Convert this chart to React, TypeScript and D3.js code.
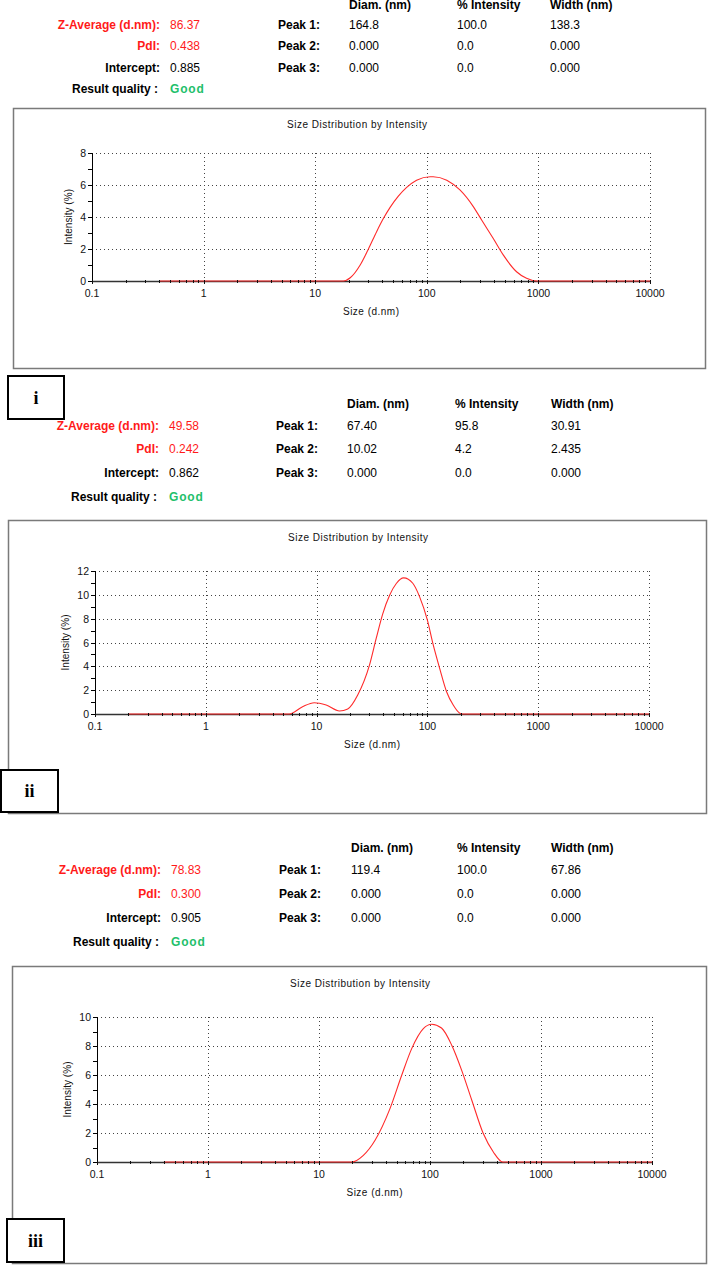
import React from "react";
import * as d3 from "d3";

// ---------- DATA ----------
const headerCols = ["Diam. (nm)", "% Intensity", "Width (nm)"];
const peakLabels = ["Peak 1:", "Peak 2:", "Peak 3:"];

const zAvg = ["86.37", "49.58", "78.83"];
const pdi = ["0.438", "0.242", "0.300"];
const intercept = ["0.885", "0.862", "0.905"];
const quality = ["Good", "Good", "Good"];

const peaksI = [["164.8", "100.0", "138.3"], ["0.000", "0.0", "0.000"], ["0.000", "0.0", "0.000"]];
const peaksII = [["67.40", "95.8", "30.91"], ["10.02", "4.2", "2.435"], ["0.000", "0.0", "0.000"]];
const peaksIII = [["119.4", "100.0", "67.86"], ["0.000", "0.0", "0.000"], ["0.000", "0.0", "0.000"]];

const xTickValues = [0.1, 1, 10, 100, 1000, 10000];
const xTickLabels = ["0.1", "1", "10", "100", "1000", "10000"];

const sizesI = [0.4, 10, 17.9, 20.6, 25.3, 30, 35.6, 40.8, 46.9, 55.6, 66, 81, 107, 114, 151, 198, 261, 310, 393, 484, 637, 783, 962, 10000];
const intensityI = [0, 0, 0, 0.2, 1.0, 2.0, 3.1, 3.9, 4.6, 5.3, 5.85, 6.3, 6.52, 6.52, 6.3, 5.69, 4.65, 3.81, 2.67, 1.63, 0.58, 0.17, 0, 0];

const sizesII = [0.2, 3, 5.66, 7.47, 9.53, 12.2, 16.1, 19.1, 23.5, 30, 34.5, 39.6, 45.6, 52.4, 61, 74.1, 85.1, 100, 112, 129, 149, 171, 196, 204, 10000];
const intensityII = [0, 0, 0, 0.61, 0.95, 0.75, 0.25, 0.42, 1.59, 4.1, 6.34, 8.43, 9.97, 10.95, 11.42, 10.95, 9.83, 7.87, 5.92, 3.83, 1.87, 0.75, 0.06, 0, 0];

const sizesIII = [0.4, 10, 19.7, 25.1, 32, 43.6, 55.6, 68.4, 87.1, 103.5, 127, 157, 193, 238, 302, 372, 452, 10000];
const intensityIII = [0, 0, 0, 0.46, 1.5, 3.68, 5.98, 7.82, 9.2, 9.5, 9.24, 8.05, 6.32, 4.26, 1.96, 0.69, 0, 0];

const yMaxes = [8, 12, 10];
const panelLabels = ["i", "ii", "iii"];

// ---------- LAYOUT ----------
const FONT = "'Liberation Sans', Arial, sans-serif";
const RED = "#ff2a2a";

type PanelLayout = {
  frame: [number, number, number, number];
  x0: number; x1: number; yTop: number; yBot: number;
  titleX: number; titleY: number; ylabX: number;
  box: [number, number, number, number];
};

const layouts: PanelLayout[] = [
  { frame: [13, 108, 692, 260], x0: 92, x1: 650, yTop: 153, yBot: 281, titleX: 357, titleY: 128, ylabX: 72, box: [7, 375, 58, 45] },
  { frame: [8, 520, 698, 293], x0: 95, x1: 649, yTop: 571, yBot: 714, titleX: 358, titleY: 541, ylabX: 69, box: [0, 769, 59, 44] },
  { frame: [12, 966, 694, 297], x0: 97, x1: 652, yTop: 1017, yBot: 1162, titleX: 360, titleY: 987, ylabX: 71, box: [6, 1218, 59, 45] },
];

type HeaderLayout = { rows: number[]; labelRight: number; valueX: number; peakX: number; cols: number[] };
const headerLayouts: HeaderLayout[] = [
  { rows: [9, 29, 50, 72, 93], labelRight: 160, valueX: 170, peakX: 278, cols: [349, 457, 550] },
  { rows: [408, 430, 453, 477, 501], labelRight: 159, valueX: 169, peakX: 276, cols: [347, 455, 551] },
  { rows: [852, 874, 898, 922, 946], labelRight: 161, valueX: 171, peakX: 279, cols: [351, 457, 551] },
];

function Header({ i, peaks }: { i: number; peaks: string[][] }) {
  const L = headerLayouts[i];
  const r = L.rows;
  return (
    <g fontFamily={FONT} fontSize={12}>
      {headerCols.map((c, k) => (
        <text key={c} x={L.cols[k]} y={r[0]} fontWeight="bold" fill="#000">{c}</text>
      ))}
      <text x={L.labelRight} y={r[1]} textAnchor="end" fontWeight="bold" fill="#ff1a1a">Z-Average (d.nm):</text>
      <text x={L.valueX} y={r[1]} fill="#ff1a1a">{zAvg[i]}</text>
      <text x={L.labelRight} y={r[2]} textAnchor="end" fontWeight="bold" fill="#ff1a1a">PdI:</text>
      <text x={L.valueX} y={r[2]} fill="#ff1a1a">{pdi[i]}</text>
      <text x={L.labelRight} y={r[3]} textAnchor="end" fontWeight="bold" fill="#000">Intercept:</text>
      <text x={L.valueX} y={r[3]} fill="#000">{intercept[i]}</text>
      <text x={L.labelRight - 2} y={r[4]} textAnchor="end" fontWeight="bold" fill="#000">Result quality :</text>
      <text x={L.valueX} y={r[4]} fontWeight="bold" fill="#22c06a" letterSpacing={0.8}>{quality[i]}</text>
      {peakLabels.map((p, k) => (
        <g key={p}>
          <text x={L.peakX} y={r[k + 1]} fontWeight="bold" fill="#000">{p}</text>
          {peaks[k].map((v, j) => (
            <text key={j} x={L.cols[j]} y={r[k + 1]} fill="#000">{v}</text>
          ))}
        </g>
      ))}
    </g>
  );
}

function Panel({ i, sizes, values }: { i: number; sizes: number[]; values: number[] }) {
  const L = layouts[i];
  const yMax = yMaxes[i];
  const xs = d3.scaleLog().domain([0.1, 10000]).range([L.x0, L.x1]);
  const ys = d3.scaleLinear().domain([0, yMax]).range([L.yBot, L.yTop]);
  const majorY = d3.range(0, yMax + 1, 2);
  const minorY = d3.range(0, yMax + 1, 1);
  const minorX: number[] = [];
  for (let e = -1; e < 4; e++) for (let k = 2; k <= 9; k++) minorX.push(k * Math.pow(10, e));
  const pts = sizes.map((s, k) => [s, values[k]] as [number, number]);
  const line = d3.line<[number, number]>().x(d => xs(d[0])).y(d => ys(d[1])).curve(d3.curveMonotoneX);
  const gridColor = "#444";
  const [fx, fy, fw, fh] = L.frame;
  const [bx, by, bw, bh] = L.box;
  const plotMidY = (L.yTop + L.yBot) / 2;
  const plotMidX = (L.x0 + L.x1) / 2;
  return (
    <g fontFamily={FONT}>
      <rect x={fx + 0.5} y={fy + 0.5} width={fw} height={fh} fill="#fff" stroke="#7a7a7a" strokeWidth={1.5} />
      <text x={L.titleX} y={L.titleY} textAnchor="middle" fontSize={10} fill="#111" textLength={140} lengthAdjust="spacing">Size Distribution by Intensity</text>
      {majorY.filter(v => v > 0).map(v => (
        <line key={"h" + v} x1={L.x0} x2={L.x1} y1={Math.round(ys(v)) + 0.5} y2={Math.round(ys(v)) + 0.5} stroke={gridColor} strokeDasharray="1 3" />
      ))}
      {xTickValues.slice(1).map(v => (
        <line key={"v" + v} x1={Math.round(xs(v)) + 0.5} x2={Math.round(xs(v)) + 0.5} y1={L.yTop} y2={L.yBot} stroke={gridColor} strokeDasharray="1 3" />
      ))}
      <line x1={L.x0 + 0.5} x2={L.x0 + 0.5} y1={L.yTop} y2={L.yBot} stroke="#000" />
      {minorY.map(v => (
        <line key={"yt" + v} x1={L.x0 - 4} x2={L.x0 + 1} y1={Math.round(ys(v)) + 0.5} y2={Math.round(ys(v)) + 0.5} stroke="#000" />
      ))}
      {majorY.map(v => (
        <text key={"yl" + v} x={L.x0 - 6} y={ys(v) + 4} textAnchor="end" fontSize={10.5} fill="#111">{v}</text>
      ))}
      <text transform={`translate(${L.ylabX},${plotMidY}) rotate(-90)`} textAnchor="middle" fontSize={10} fill="#111" textLength={56} lengthAdjust="spacing">Intensity (%)</text>
      <line x1={L.x0} x2={L.x1} y1={L.yBot + 0.5} y2={L.yBot + 0.5} stroke="#333" strokeWidth={1.5} />
      <path d={line(pts) || ""} fill="none" stroke={RED} strokeWidth={1.1} />
      {minorX.map(v => (
        <line key={"xt" + v} x1={Math.round(xs(v)) + 0.5} x2={Math.round(xs(v)) + 0.5} y1={L.yBot - 1} y2={L.yBot + 2} stroke="#111" />
      ))}
      {xTickValues.map(v => (
        <line key={"xm" + v} x1={Math.round(xs(v)) + 0.5} x2={Math.round(xs(v)) + 0.5} y1={L.yBot - 1} y2={L.yBot + 3} stroke="#111" />
      ))}
      {xTickValues.map((v, k) => (
        <text key={"xl" + v} x={xs(v)} y={L.yBot + 16} textAnchor="middle" fontSize={10.5} fill="#111">{xTickLabels[k]}</text>
      ))}
      <text x={plotMidX} y={L.yBot + 34} textAnchor="middle" fontSize={10} fill="#111" textLength={56} lengthAdjust="spacing">Size (d.nm)</text>
      <rect x={bx + 1} y={by + 1} width={bw - 2} height={bh - 2} fill="#fff" stroke="#000" strokeWidth={2} />
      <text x={bx + bw / 2} y={by + bh / 2 + 6} textAnchor="middle" fontFamily="'Liberation Serif', 'Times New Roman', serif" fontWeight="bold" fontSize={18} fill="#000">{panelLabels[i]}</text>
    </g>
  );
}

export default function App() {
  return (
    <svg width={708} height={1265} style={{ position: "absolute", left: 0, top: 0, background: "#fff" }}>
      <rect x={0} y={0} width={708} height={1265} fill="#fff" />
      <Header i={0} peaks={peaksI} />
      <Panel i={0} sizes={sizesI} values={intensityI} />
      <Header i={1} peaks={peaksII} />
      <Panel i={1} sizes={sizesII} values={intensityII} />
      <Header i={2} peaks={peaksIII} />
      <Panel i={2} sizes={sizesIII} values={intensityIII} />
    </svg>
  );
}
